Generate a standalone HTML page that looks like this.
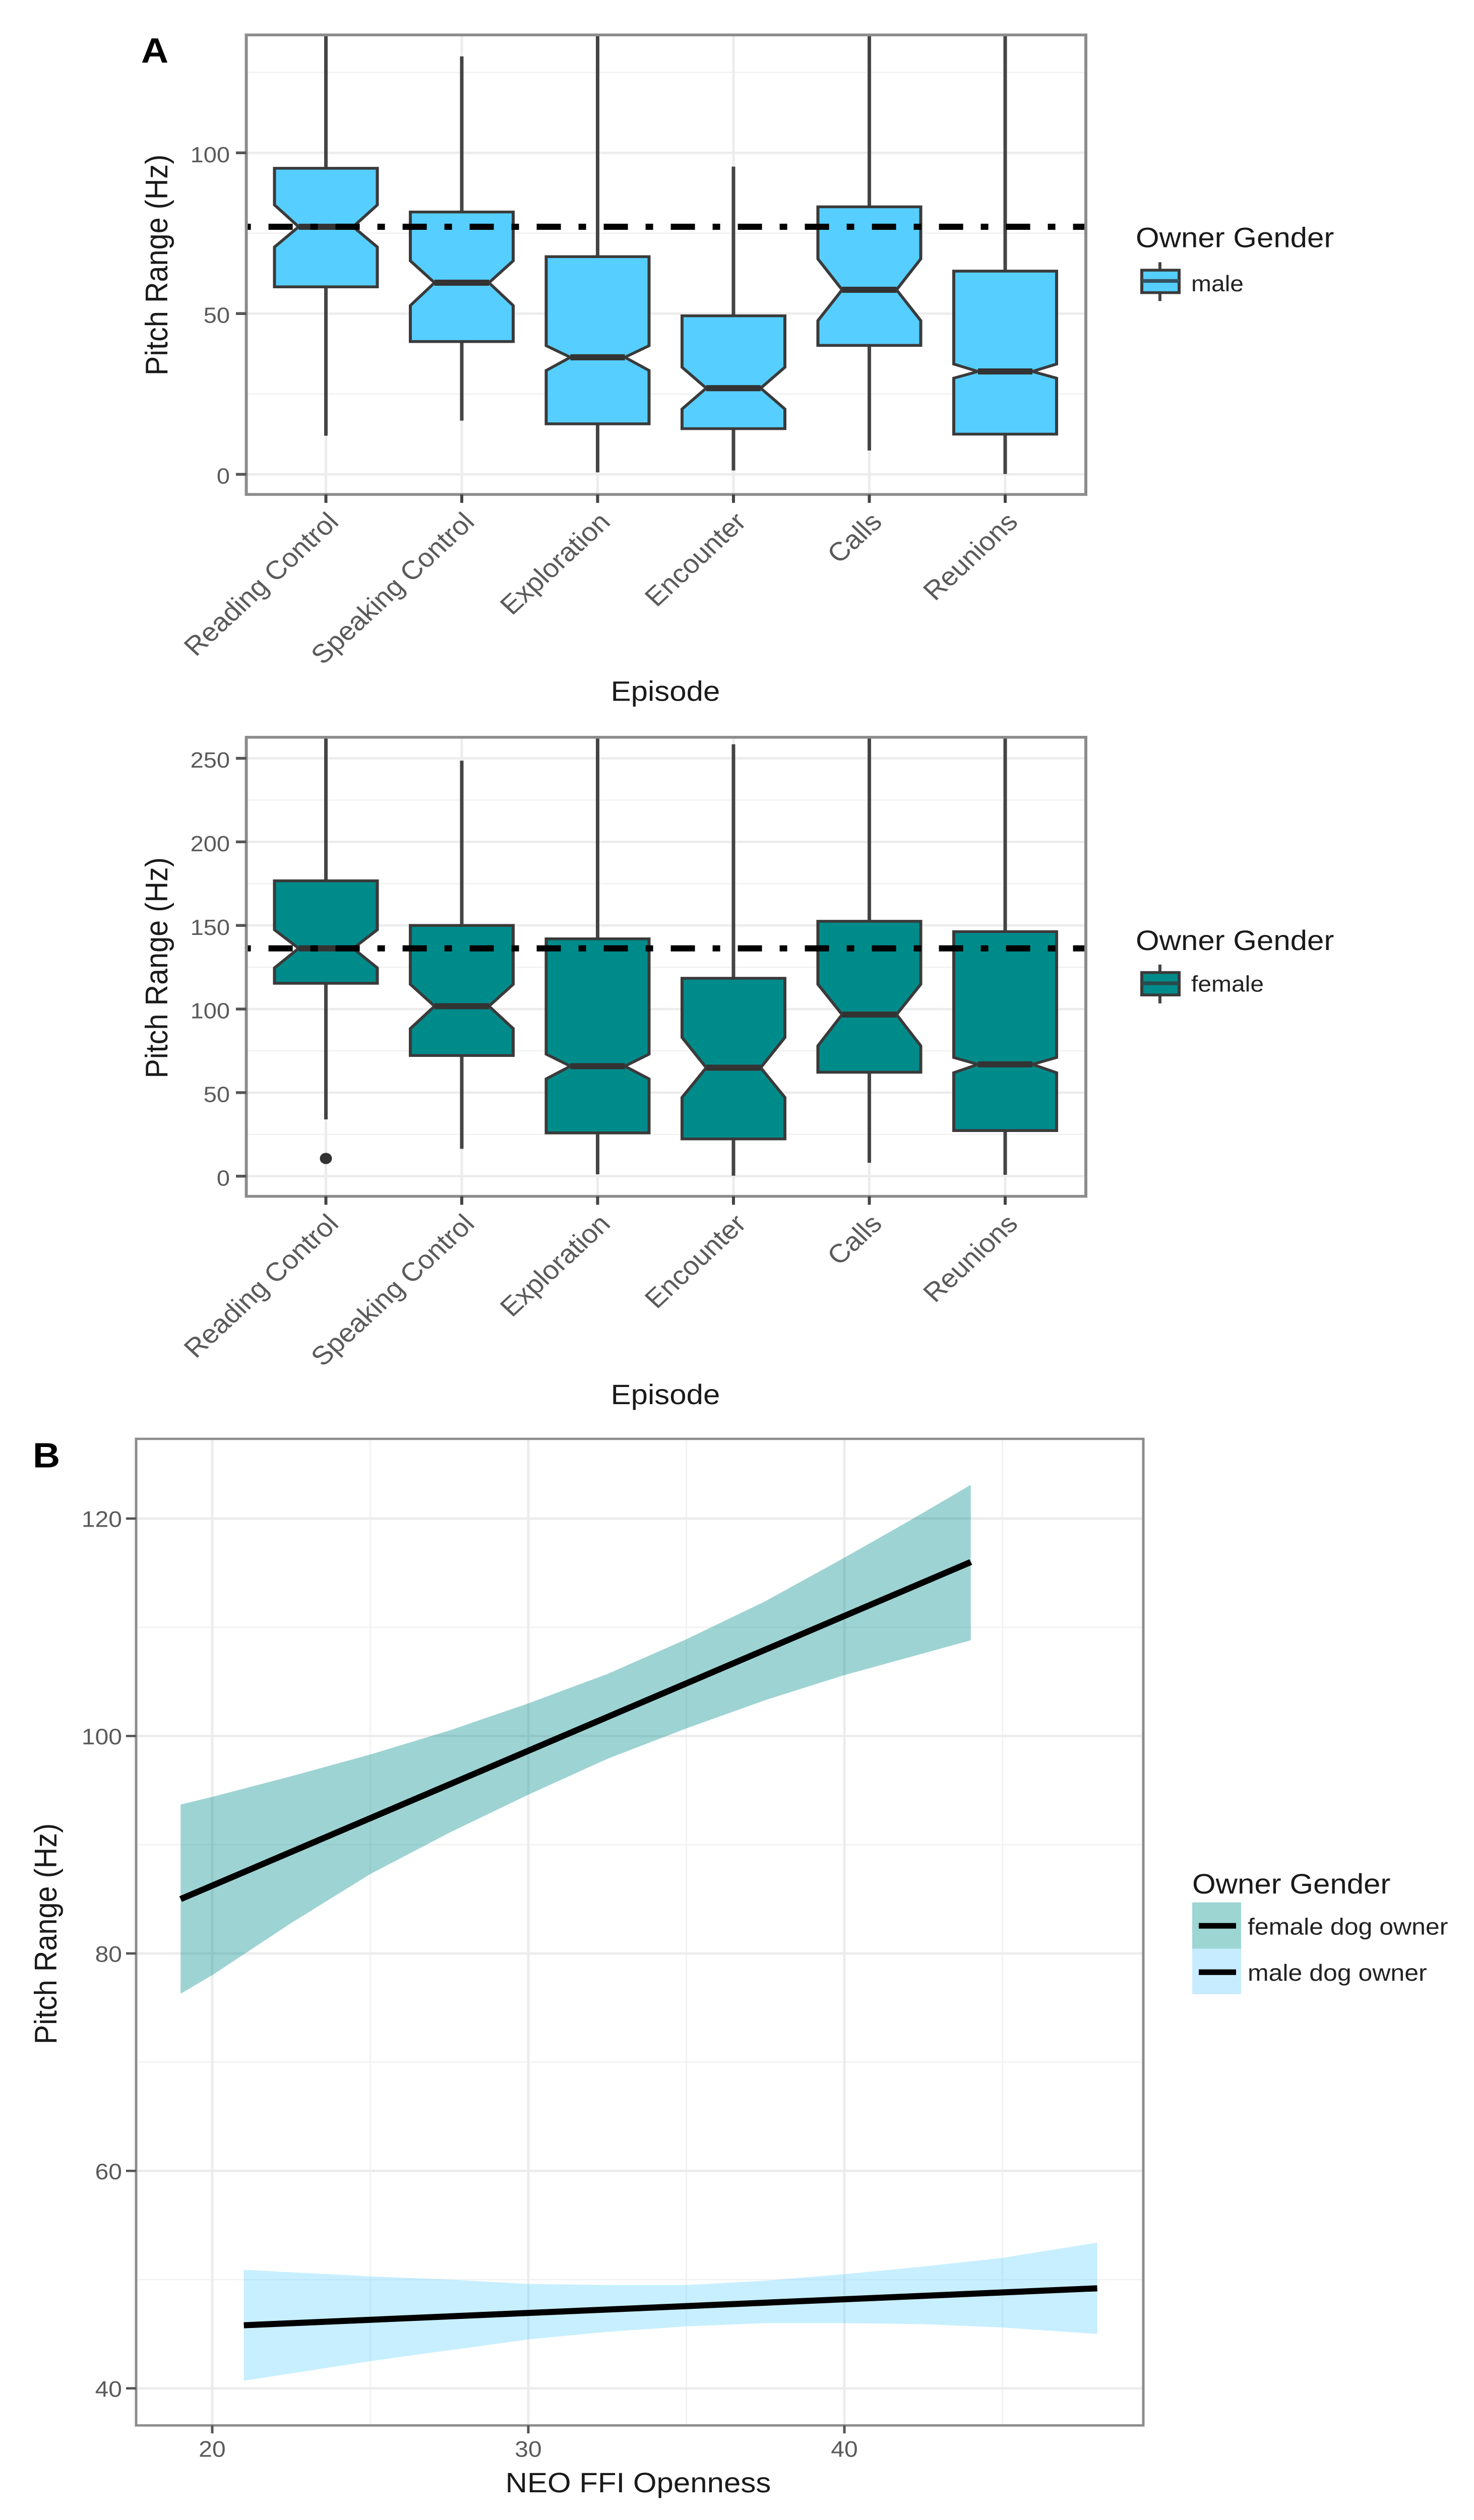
<!DOCTYPE html>
<html>
<head>
<meta charset="utf-8">
<title>Pitch range by episode and openness</title>
<style>
html,body{margin:0;padding:0;background:#fff;width:100%;height:100%;overflow:hidden;}
svg{display:block;position:fixed;left:0;top:0;width:100vw;height:100vh;}
text{font-family:"Liberation Sans",sans-serif;}
</style>
</head>
<body>
<svg id="fig" xmlns="http://www.w3.org/2000/svg" viewBox="0 0 2924 5382" preserveAspectRatio="none">
  <defs>
    <clipPath id="clip-male"><rect x="488" y="74" width="1666" height="982"/></clipPath>
    <clipPath id="clip-female"><rect x="488" y="1574" width="1666" height="981"/></clipPath>
    <clipPath id="clip-b"><rect x="269" y="3073" width="2000" height="2107"/></clipPath>
  </defs>
  <rect x="0" y="0" width="2924" height="5382" fill="#fff"/>

  <g id="panel-male"></g>
  <g id="panel-female"></g>
  <g id="panel-b"></g>

  <text x="280" y="134" font-size="75" font-weight="bold" fill="#000">A</text>
  <text x="65" y="3134" font-size="75" font-weight="bold" fill="#000">B</text>

  <text transform="translate(332,566) rotate(-90)" text-anchor="middle" font-size="62" fill="#1a1a1a">Pitch Range (Hz)</text>
  <text x="1320" y="1497" text-anchor="middle" font-size="60" fill="#1a1a1a">Episode</text>
  <text transform="translate(332,2067) rotate(-90)" text-anchor="middle" font-size="62" fill="#1a1a1a">Pitch Range (Hz)</text>
  <text x="1320" y="2999" text-anchor="middle" font-size="60" fill="#1a1a1a">Episode</text>
  <text transform="translate(112,4130) rotate(-90)" text-anchor="middle" font-size="62" fill="#1a1a1a">Pitch Range (Hz)</text>
  <text x="1266" y="5323" text-anchor="middle" font-size="60" fill="#1a1a1a">NEO FFI Openness</text>

  <g>
    <text x="2253" y="528" font-size="60" fill="#1a1a1a">Owner Gender</text>
    <line x1="2301" x2="2301" y1="560" y2="643" stroke="#444" stroke-width="6"/>
    <rect x="2265" y="577" width="74" height="48" fill="#56CEFF" stroke="#3a3a3a" stroke-width="6"/>
    <line x1="2265" x2="2339" y1="600" y2="600" stroke="#33525e" stroke-width="8"/>
    <text x="2363" y="622" font-size="48" fill="#222">male</text>
  </g>
  <g>
    <text x="2253" y="2029" font-size="60" fill="#1a1a1a">Owner Gender</text>
    <line x1="2301" x2="2301" y1="2060" y2="2143" stroke="#444" stroke-width="6"/>
    <rect x="2265" y="2077" width="74" height="48" fill="#008B8B" stroke="#3a3a3a" stroke-width="6"/>
    <line x1="2265" x2="2339" y1="2100" y2="2100" stroke="#2c4a4a" stroke-width="8"/>
    <text x="2363" y="2118" font-size="48" fill="#222">female</text>
  </g>
  <g>
    <text x="2365" y="4044" font-size="60" fill="#1a1a1a">Owner Gender</text>
    <rect x="2365" y="4063" width="97" height="99" fill="#9DD5D3"/>
    <rect x="2365" y="4162" width="97" height="97" fill="#C8ECFF"/>
    <line x1="2378" x2="2452" y1="4113" y2="4113" stroke="#000" stroke-width="12"/>
    <line x1="2378" x2="2452" y1="4212" y2="4212" stroke="#000" stroke-width="12"/>
    <text x="2475" y="4132" font-size="50" fill="#222">female dog owner</text>
    <text x="2475" y="4230" font-size="50" fill="#222">male dog owner</text>
  </g>
</svg>

<script>
// ----- Panel A: shared categories -----
const categories = ["Reading Control", "Speaking Control", "Exploration", "Encounter", "Calls", "Reunions"];

// ----- Panel A: male owners -----
const maleTicks = [0, 50, 100];
const maleMinorTicks = [25, 75, 125];
const maleRefLine = 77;
const maleQ1 = [58.3, 41.3, 15.7, 14.2, 40.1, 12.5];
const maleMedian = [77, 59.6, 36.4, 26.8, 57.4, 32];
const maleQ3 = [95.2, 81.6, 67.7, 49.3, 83.2, 63.2];
const maleNotchLow = [70.7, 52.5, 32.3, 20.3, 47.8, 29.9];
const maleNotchHigh = [83.8, 66.4, 40, 33.3, 67, 34.3];
const maleWhiskerLow = [12, 16.7, 0.6, 1.2, 7.4, 0.1];
const maleWhiskerHigh = [150, 130, 150, 95.7, 150, 150];
const maleOutliers = [];

// ----- Panel A: female owners -----
const femaleTicks = [0, 50, 100, 150, 200, 250];
const femaleMinorTicks = [25, 75, 125, 175, 225];
const femaleRefLine = 136.3;
const femaleQ1 = [115.4, 72.2, 25.9, 22.3, 62.2, 27.3];
const femaleMedian = [136.3, 101.7, 65.8, 64.9, 96.7, 66.9];
const femaleQ3 = [176.7, 150, 142, 118.4, 152.5, 146.3];
const femaleNotchLow = [124.6, 88.3, 58.2, 47.1, 78, 61.9];
const femaleNotchHigh = [147.4, 114.8, 73, 83, 114.8, 71];
const femaleWhiskerLow = [34, 16.4, 1.1, 0.3, 8, 0.8];
const femaleWhiskerHigh = [280, 248.6, 280, 258.4, 280, 280];
const femaleOutliers = [10.6, null, null, null, null, null];

// ----- Panel B -----
const opennessTicksX = [20, 30, 40];
const opennessMinorX = [25, 35, 45];
const opennessTicksY = [40, 60, 80, 100, 120];
const opennessMinorY = [50, 70, 90, 110];
const femaleRibbonX = [19, 20, 22.5, 25, 27.5, 30, 32.5, 35, 37.5, 40, 42, 44];
const femaleRibbonUpper = [93.7, 94.4, 96.3, 98.3, 100.5, 103, 105.7, 108.9, 112.4, 116.4, 119.7, 123.1];
const femaleRibbonLower = [76.3, 78, 82.8, 87.3, 91.1, 94.6, 97.9, 100.7, 103.3, 105.6, 107.2, 108.8];
const femaleLineX = [19, 44];
const femaleLineY = [85, 116];
const maleRibbonX = [21, 23, 25, 27.5, 30, 32.5, 35, 37.5, 40, 42.5, 45, 48];
const maleRibbonUpper = [50.9, 50.6, 50.3, 50, 49.6, 49.5, 49.5, 49.9, 50.5, 51.2, 52, 53.4];
const maleRibbonLower = [40.7, 41.6, 42.5, 43.5, 44.5, 45.2, 45.7, 46, 46, 45.9, 45.6, 45];
const maleLineX = [21, 48];
const maleLineY = [45.8, 49.2];

// ----- Axis functions -----
const NS = "http://www.w3.org/2000/svg";
const xCat = i => 646.5 + 269.5 * i;
const yMale = v => 1013 - 6.866 * v;
const yFemale = v => 2512 - 3.57 * v;
const xOpen = v => 421 + 62.7 * (v - 20);
const yOpen = v => 5100.8 - 23.22 * (v - 40);

function mk(tag, attrs, parent) {
  const e = document.createElementNS(NS, tag);
  for (const k in attrs) e.setAttribute(k, attrs[k]);
  parent.appendChild(e);
  return e;
}

function drawBoxPanel(o) {
  const g = document.getElementById(o.groupId);
  const L = 488.6, R = 2154;
  const T = o.top, B = o.bottom;

  o.minor.forEach(v => {
    const el = mk('line', {x1: L, x2: R, y1: o.y(v), y2: o.y(v), stroke: '#f2f2f2', 'stroke-width': 3}, g);
    
    
  });
  o.ticks.forEach(v => {
    const el = mk('line', {x1: L, x2: R, y1: o.y(v), y2: o.y(v), stroke: '#ececec', 'stroke-width': 5}, g);
    
    
  });
  categories.forEach((c, i) => {
    const el = mk('line', {x1: xCat(i), x2: xCat(i), y1: T, y2: B, stroke: '#ececec', 'stroke-width': 5}, g);
    
    
  });

  const plot = mk('g', {'clip-path': 'url(#' + o.clip + ')'}, g);
  
  

  categories.forEach((c, i) => {
    const x = xCat(i), hw = 102, nw = 54;
    const wh = mk('line', {x1: x, x2: x, y1: o.y(o.q3[i]), y2: o.y(o.hi[i]), stroke: '#444', 'stroke-width': 7}, plot);
    
    
    const wl = mk('line', {x1: x, x2: x, y1: o.y(o.q1[i]), y2: o.y(o.lo[i]), stroke: '#444', 'stroke-width': 7}, plot);
    
    
    const pts = [
      [x - hw, o.y(o.q3[i])], [x + hw, o.y(o.q3[i])],
      [x + hw, o.y(o.nh[i])], [x + nw, o.y(o.med[i])], [x + hw, o.y(o.nl[i])],
      [x + hw, o.y(o.q1[i])], [x - hw, o.y(o.q1[i])],
      [x - hw, o.y(o.nl[i])], [x - nw, o.y(o.med[i])], [x - hw, o.y(o.nh[i])]
    ].map(p => p.join(',')).join(' ');
    const box = mk('polygon', {points: pts, fill: o.fill, stroke: '#3a3a3a', 'stroke-width': 6, 'stroke-linejoin': 'miter'}, plot);
    
    
    const m = mk('line', {x1: x - nw, x2: x + nw, y1: o.y(o.med[i]), y2: o.y(o.med[i]), stroke: '#333', 'stroke-width': 13}, plot);
    
    
    if (o.out[i] != null) {
      const d = mk('circle', {cx: x, cy: o.y(o.out[i]), r: 12, fill: '#333'}, plot);
      
      
    }
  });

  const ref = mk('line', {x1: L, x2: R, y1: o.y(o.ref), y2: o.y(o.ref), stroke: '#000', 'stroke-width': 13, 'stroke-dasharray': '48 35 15 35', 'stroke-dashoffset': 89}, plot);
  
  

  const frame = mk('rect', {x: L, y: T, width: R - L, height: B - T, fill: 'none', stroke: '#8c8c8c', 'stroke-width': 6}, g);
  
  

  o.ticks.forEach(v => {
    const t = mk('line', {x1: 468, x2: L, y1: o.y(v), y2: o.y(v), stroke: '#555', 'stroke-width': 6}, g);
    
    
    const l = mk('text', {x: 456, y: o.y(v) + 20, 'text-anchor': 'end', 'font-size': 47, fill: '#5a5a5a'}, g);
    l.textContent = v;
    
    
  });
  categories.forEach((c, i) => {
    const t = mk('line', {x1: xCat(i), x2: xCat(i), y1: B, y2: B + 18, stroke: '#444', 'stroke-width': 6}, g);
    
    
    const l = mk('text', {transform: 'translate(' + (xCat(i) + 28) + ',' + (B + 62) + ') rotate(-45)', 'text-anchor': 'end', 'font-size': 56, fill: '#5a5a5a'}, g);
    l.textContent = c;
    
    
  });
}

drawBoxPanel({
  groupId: 'panel-male', clip: 'clip-male', y: yMale, top: 74.6, bottom: 1056, fill: '#56CEFF',
  ticks: maleTicks, minor: maleMinorTicks, ref: maleRefLine,
  q1: maleQ1, med: maleMedian, q3: maleQ3, nl: maleNotchLow, nh: maleNotchHigh,
  lo: maleWhiskerLow, hi: maleWhiskerHigh, out: maleOutliers
});
drawBoxPanel({
  groupId: 'panel-female', clip: 'clip-female', y: yFemale, top: 1574.6, bottom: 2555, fill: '#008B8B',
  ticks: femaleTicks, minor: femaleMinorTicks, ref: femaleRefLine,
  q1: femaleQ1, med: femaleMedian, q3: femaleQ3, nl: femaleNotchLow, nh: femaleNotchHigh,
  lo: femaleWhiskerLow, hi: femaleWhiskerHigh, out: femaleOutliers
});

function drawRibbon(parent, xs, up, low, color) {
  const top = xs.map((v, i) => xOpen(v) + ',' + yOpen(up[i]));
  const bot = xs.map((v, i) => xOpen(v) + ',' + yOpen(low[i])).reverse();
  return mk('polygon', {points: top.concat(bot).join(' '), fill: color}, parent);
}

(function drawOpenness() {
  const g = document.getElementById('panel-b');
  const L = 270, R = 2268, T = 3073, B = 5180;

  opennessMinorY.forEach(v => {
    const el = mk('line', {x1: L, x2: R, y1: yOpen(v), y2: yOpen(v), stroke: '#f2f2f2', 'stroke-width': 3}, g);
    
    
  });
  opennessMinorX.forEach(v => {
    const el = mk('line', {x1: xOpen(v), x2: xOpen(v), y1: T, y2: B, stroke: '#f2f2f2', 'stroke-width': 3}, g);
    
    
  });
  opennessTicksY.forEach(v => {
    const el = mk('line', {x1: L, x2: R, y1: yOpen(v), y2: yOpen(v), stroke: '#ececec', 'stroke-width': 5}, g);
    
    
  });
  opennessTicksX.forEach(v => {
    const el = mk('line', {x1: xOpen(v), x2: xOpen(v), y1: T, y2: B, stroke: '#ececec', 'stroke-width': 5}, g);
    
    
  });

  const plot = mk('g', {'clip-path': 'url(#clip-b)'}, g);
  
  

  const rf = drawRibbon(plot, femaleRibbonX, femaleRibbonUpper, femaleRibbonLower, 'rgba(0,139,139,0.38)');
  
  
  const rm = drawRibbon(plot, maleRibbonX, maleRibbonUpper, maleRibbonLower, 'rgba(86,206,255,0.33)');
  
  

  const lf = mk('polyline', {points: femaleLineX.map((v, i) => xOpen(v) + ',' + yOpen(femaleLineY[i])).join(' '), fill: 'none', stroke: '#000', 'stroke-width': 13}, plot);
  
  
  const lm = mk('polyline', {points: maleLineX.map((v, i) => xOpen(v) + ',' + yOpen(maleLineY[i])).join(' '), fill: 'none', stroke: '#000', 'stroke-width': 13}, plot);
  
  

  const frame = mk('rect', {x: L, y: T, width: R - L, height: B - T, fill: 'none', stroke: '#8c8c8c', 'stroke-width': 5}, g);
  
  

  opennessTicksY.forEach(v => {
    const t = mk('line', {x1: 250, x2: L, y1: yOpen(v), y2: yOpen(v), stroke: '#555', 'stroke-width': 5}, g);
    
    
    const l = mk('text', {x: 242, y: yOpen(v) + 18, 'text-anchor': 'end', 'font-size': 48, fill: '#5a5a5a'}, g);
    l.textContent = v;
    
    
  });
  opennessTicksX.forEach(v => {
    const t = mk('line', {x1: xOpen(v), x2: xOpen(v), y1: B, y2: B + 17, stroke: '#555', 'stroke-width': 5}, g);
    
    
    const l = mk('text', {x: xOpen(v), y: 5247, 'text-anchor': 'middle', 'font-size': 48, fill: '#5a5a5a'}, g);
    l.textContent = v;
    
    
  });
})();
</script>
</body>
</html>
